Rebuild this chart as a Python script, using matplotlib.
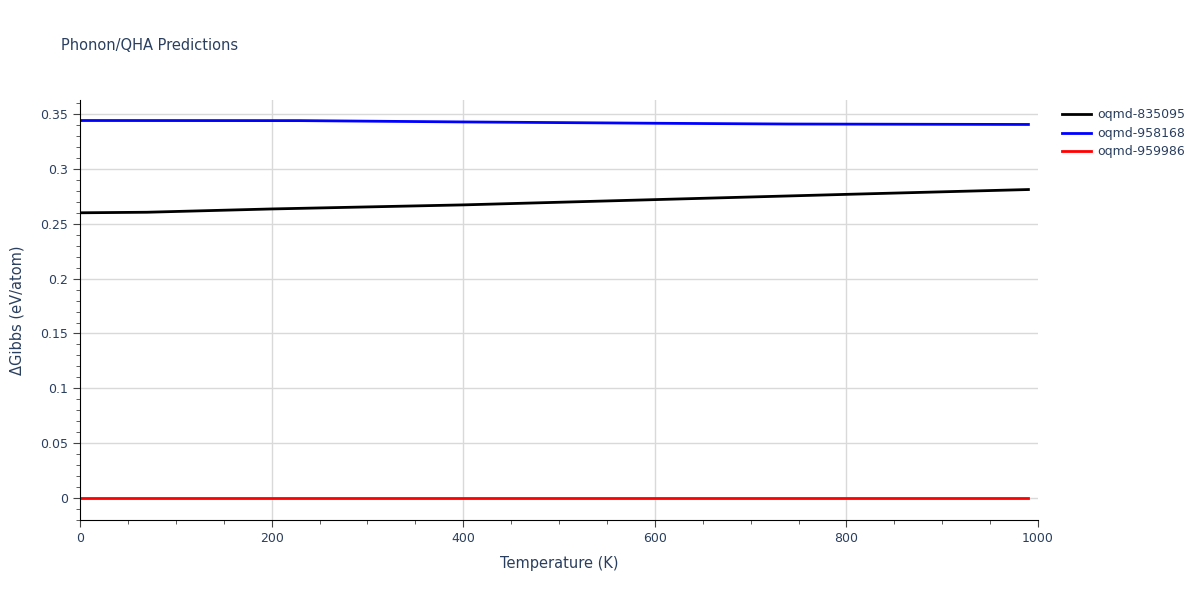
import numpy as np
import matplotlib
matplotlib.use("Agg")
import matplotlib.pyplot as plt
from matplotlib.ticker import MultipleLocator

T_black = [0, 70, 200, 400, 600, 800, 990]
g_black = [0.2600, 0.2605, 0.2635, 0.2672, 0.2720, 0.2768, 0.2812]
T_blue = [0, 230, 400, 600, 740, 990]
g_blue = [0.3441, 0.3440, 0.3428, 0.3416, 0.3409, 0.3405]
T_red = [0, 990]
g_red = [0.0, 0.0]

labels = ["oqmd-835095", "oqmd-958168", "oqmd-959986"]
txt = "#2a3f5f"

fig = plt.figure(figsize=(12, 6), dpi=100)
ax = fig.add_axes([80/1200, 1-520/600, (1038-80)/1200, 420/600])

ax.plot(T_black, g_black, color="black", lw=2, label=labels[0])
ax.plot(T_blue, g_blue, color="blue", lw=2, label=labels[1])
ax.plot(T_red, g_red, color="red", lw=2, label=labels[2])

ax.set_xlim(0, 1000)
ax.set_ylim(-0.02, 0.3628)
ax.set_xticks([0, 200, 400, 600, 800, 1000])
ax.xaxis.set_minor_locator(MultipleLocator(50))
ax.yaxis.set_minor_locator(MultipleLocator(0.01))
ax.set_yticks(np.arange(0, 0.36, 0.05))
ax.set_yticklabels(["0", "0.05", "0.1", "0.15", "0.2", "0.25", "0.3", "0.35"])

# grid by hand so the line at x=1000 is left out
for xv in [200, 400, 600, 800]:
    ax.axvline(xv, color="#d9d9d9", lw=1, zorder=0)
ax.grid(True, axis="y", which="major", color="#d9d9d9", lw=1)
ax.set_axisbelow(True)
for s in ["top", "right"]:
    ax.spines[s].set_visible(False)
for s in ["left", "bottom"]:
    ax.spines[s].set_color("black")
ax.tick_params(which="major", length=5, color="#444444", labelcolor=txt, labelsize=9)
ax.tick_params(which="minor", length=3, color="#444444")

ax.set_xlabel("Temperature (K)", color=txt, fontsize=10.5, labelpad=8)
ax.set_ylabel("ΔGibbs (eV/atom)", color=txt, fontsize=10.5, labelpad=11)
fig.text(61/1200, 1-45/600, "Phonon/QHA Predictions", color=txt, fontsize=10.5, va="center")

leg = fig.legend(loc="upper left", bbox_to_anchor=(1051/1200, 1-97/600), frameon=False,
                 fontsize=9, handlelength=2.3, handletextpad=0.5, labelspacing=0.45)
for t in leg.get_texts():
    t.set_color(txt)

fig.savefig("out.png", dpi=100)
